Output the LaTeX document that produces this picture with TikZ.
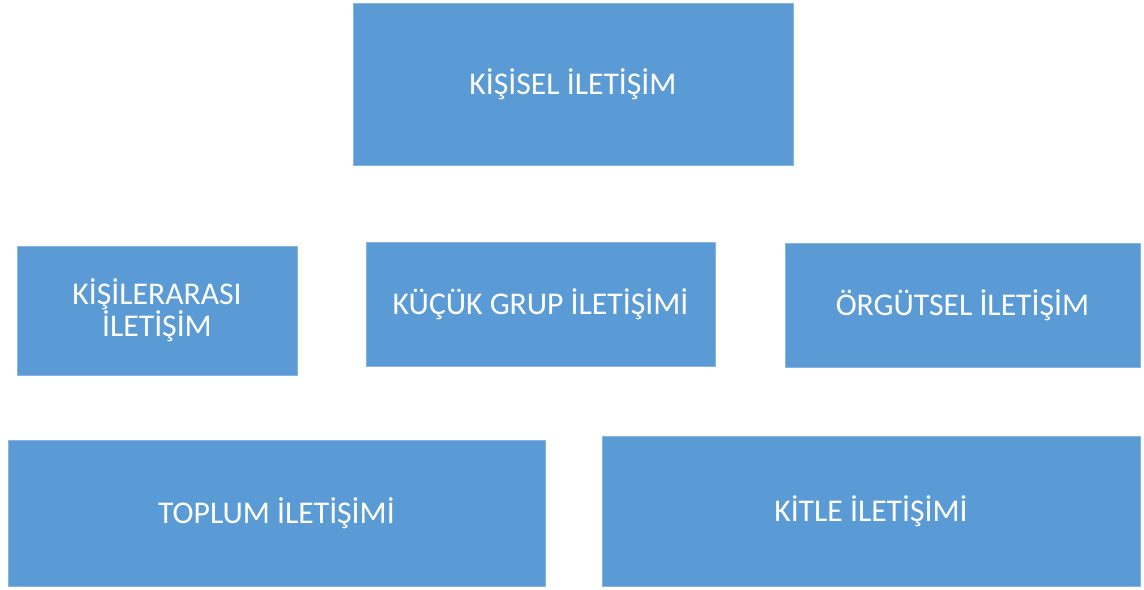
\documentclass[tikz,border=0pt]{standalone}
\usepackage{fontspec}
\setmainfont{Carlito}
\usepackage{tikz}
\usetikzlibrary{positioning}
\definecolor{boxblue}{HTML}{5B9BD5}
\definecolor{boxedge}{HTML}{8AB4E0}
\tikzset{%
	kutu/.style = {draw=boxedge, line width=0.5pt, fill=boxblue, rectangle, text=white, align=center, font=\fontsize{22.5}{23}\selectfont, inner sep=0pt},
}
\begin{document}
\begin{tikzpicture}[x=0.025cm,y=-0.025cm]
	\useasboundingbox (0,0) rectangle (1144,590);
	\node[kutu, minimum width=11cm, minimum height=4.05cm] (kisisel) at (573,84) {KİŞİSEL İLETİŞİM};
	\node[kutu, minimum width=7cm, minimum height=3.225cm] (kisilerarasi) at (157,310.5) {KİŞİLERARASI\\İLETİŞİM};
	\node[kutu, minimum width=8.725cm, minimum height=3.1cm] (kucukgrup) at (540.5,304) {KÜÇÜK GRUP İLETİŞİMİ};
	\node[kutu, minimum width=8.875cm, minimum height=3.1cm] (orgutsel) at (962.5,305) {ÖRGÜTSEL İLETİŞİM};
	\node[kutu, minimum width=13.425cm, minimum height=3.65cm] (toplum) at (276.5,513) {TOPLUM İLETİŞİMİ};
	\node[kutu, minimum width=13.45cm, minimum height=3.75cm] (kitle) at (871,511) {KİTLE İLETİŞİMİ};
\end{tikzpicture}
\end{document}
